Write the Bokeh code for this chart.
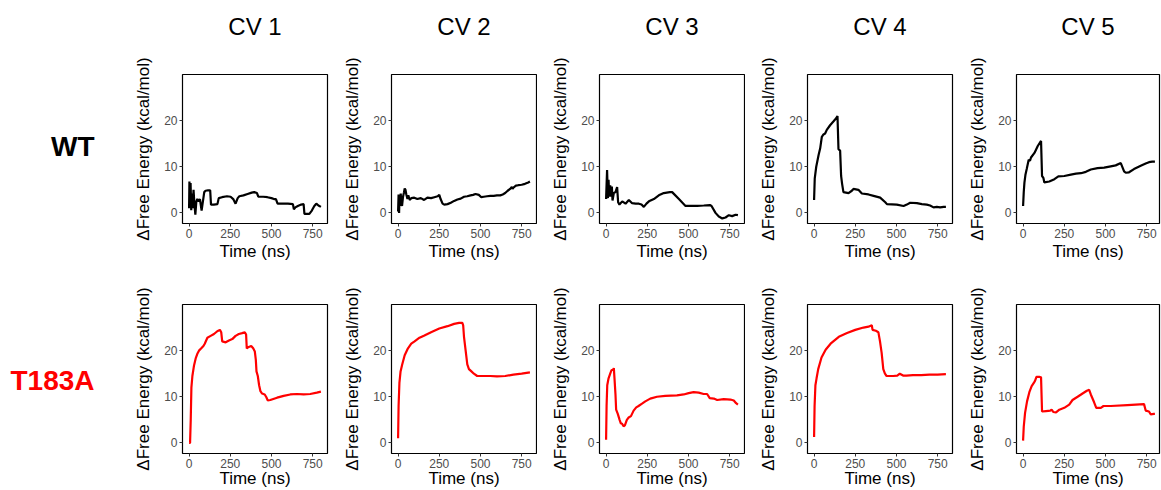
from bokeh.plotting import figure
from bokeh.layouts import row, column
from bokeh.models import Range1d, FixedTicker
from bokeh.core.properties import value
from bokeh.embed import file_html
from bokeh.resources import INLINE

cv_titles = ["CV 1", "CV 2", "CV 3", "CV 4", "CV 5"]
row_labels = ["WT", "T183A"]
row_colors = ["black", "#FF0000"]
x_ticks = [0, 250, 500, 750]
y_ticks = [0, 10, 20]
x_label = "Time (ns)"
y_label = "\u0394Free Energy (kcal/mol)"

# ---- WT ----
wt_cv1_t = [0, 2, 5, 9, 13, 17, 22, 27, 32, 38, 44, 50, 58, 66, 72, 76, 82, 92, 100, 115, 128, 133, 150, 172, 180, 200, 230, 252, 268, 282, 295, 305, 330, 355, 380, 395, 412, 420, 427, 450, 475, 500, 515, 527, 537, 560, 600, 630, 636, 645, 660, 680, 695, 700, 705, 730, 745, 760, 772, 785, 800]
wt_cv1_g = [1.0, 6.8, 1.0, 6.5, 0.6, 4.2, 1.0, 5.0, 2.0, -0.4, 2.5, 3.0, 2.5, 3.0, 1.5, 0.5, 2.0, 4.5, 4.8, 4.9, 4.9, 1.8, 1.8, 1.9, 3.2, 3.4, 3.6, 3.5, 3.0, 2.0, 3.2, 3.6, 3.8, 4.1, 4.4, 4.5, 4.3, 3.5, 3.5, 3.5, 3.4, 3.2, 3.0, 3.0, 2.0, 2.0, 2.0, 1.9, 0.8, 1.2, 1.5, 1.8, 1.9, -0.2, -0.2, -0.2, 0.5, 1.5, 2.0, 1.6, 1.3]

wt_cv2_t = [0, 3, 6, 9, 12, 16, 20, 24, 30, 36, 40, 45, 50, 57, 62, 67, 72, 80, 98, 117, 138, 158, 178, 200, 220, 240, 250, 258, 270, 280, 300, 320, 340, 360, 380, 400, 420, 440, 455, 470, 490, 505, 520, 540, 560, 580, 600, 620, 635, 650, 665, 680, 690, 695, 700, 715, 730, 750, 770, 790, 800]
wt_cv2_g = [0.3, 4.0, 0.0, 4.0, 1.5, 4.2, 2.0, 1.5, 3.5, 4.5, 5.3, 5.0, 4.0, 3.0, 3.8, 3.2, 2.8, 3.2, 3.3, 3.0, 3.2, 2.8, 3.3, 3.2, 3.4, 3.6, 3.9, 3.0, 2.0, 1.8, 1.9, 2.2, 2.6, 2.9, 3.1, 3.5, 3.6, 3.8, 3.9, 4.1, 3.9, 3.4, 3.5, 3.6, 3.7, 3.7, 3.8, 3.8, 4.0, 4.3, 4.8, 5.2, 5.6, 5.2, 5.5, 5.9, 6.0, 6.1, 6.3, 6.6, 6.8]

wt_cv3_t = [0, 6, 11, 15, 19, 25, 29, 35, 39, 47, 57, 67, 73, 81, 98, 118, 138, 158, 179, 199, 215, 229, 245, 260, 290, 320, 350, 387, 401, 442, 482, 553, 593, 630, 640, 664, 684, 705, 725, 745, 765, 786, 800]
wt_cv3_g = [3.0, 9.3, 3.2, 7.2, 3.5, 6.0, 3.5, 5.7, 2.7, 4.3, 4.5, 5.6, 2.3, 1.8, 2.5, 2.0, 2.8, 2.1, 2.0, 2.0, 1.8, 1.3, 2.0, 2.5, 3.0, 3.8, 4.3, 4.5, 4.5, 3.0, 1.5, 1.5, 1.6, 1.7, 1.5, 0.0, -0.8, -1.2, -1.0, -0.5, -0.7, -0.4, -0.5]

wt_cv4_t = [0, 4, 13, 27, 37, 47, 57, 67, 77, 97, 117, 134, 142, 148, 158, 164, 170, 178, 209, 229, 239, 269, 290, 330, 361, 401, 432, 442, 502, 543, 563, 583, 624, 654, 684, 704, 725, 745, 765, 786, 800]
wt_cv4_g = [2.8, 7.5, 10.0, 12.5, 14.0, 16.5, 17.0, 17.2, 18.0, 19.0, 19.8, 20.5, 21.0, 13.8, 13.5, 8.0, 6.3, 4.5, 4.3, 4.8, 5.2, 5.0, 4.2, 4.0, 3.7, 3.3, 2.3, 1.9, 1.8, 1.5, 1.8, 2.2, 2.1, 1.9, 1.8, 1.6, 1.2, 1.3, 1.2, 1.3, 1.3]

wt_cv5_t = [0, 4, 8, 14, 22, 34, 42, 48, 69, 89, 109, 115, 123, 129, 159, 190, 214, 250, 290, 321, 351, 381, 411, 452, 492, 532, 562, 593, 613, 623, 643, 673, 714, 744, 764, 784, 800]
wt_cv5_g = [1.5, 4.5, 6.5, 8.2, 9.5, 11.5, 11.3, 12.0, 13.0, 14.5, 15.6, 8.0, 7.6, 6.6, 6.8, 7.3, 7.9, 8.0, 8.3, 8.5, 8.6, 8.9, 9.4, 9.7, 9.8, 10.1, 10.3, 10.8, 9.0, 8.7, 8.8, 9.5, 10.2, 10.7, 11.0, 11.1, 11.1]

# ---- T183A ----
mut_cv1_t = [0, 6, 10, 14, 20, 30, 40, 50, 60, 74, 87, 95, 111, 131, 151, 171, 187, 195, 201, 222, 242, 262, 282, 302, 322, 338, 346, 350, 362, 377, 389, 399, 405, 409, 417, 425, 433, 443, 459, 469, 477, 493, 534, 574, 614, 654, 695, 735, 775, 800]
mut_cv1_g = [0.0, 0.0, 5.0, 12.0, 14.5, 16.8, 18.3, 19.3, 20.0, 20.5, 21.0, 21.5, 22.8, 23.2, 23.6, 24.2, 24.5, 24.0, 22.0, 21.8, 22.2, 22.5, 23.2, 23.6, 23.8, 24.0, 23.5, 20.5, 20.8, 21.0, 20.5, 19.8, 18.0, 15.5, 14.5, 12.5, 11.2, 10.7, 10.5, 9.9, 9.2, 9.3, 9.8, 10.2, 10.5, 10.6, 10.5, 10.6, 10.9, 11.1]

mut_cv2_t = [0, 3, 8, 15, 25, 40, 60, 80, 100, 130, 160, 200, 250, 300, 340, 370, 390, 395, 400, 410, 420, 430, 445, 460, 480, 520, 560, 600, 650, 700, 750, 800]
mut_cv2_g = [1.0, 8.0, 13.0, 15.5, 17.0, 19.0, 20.5, 21.5, 22.0, 22.8, 23.3, 24.0, 24.8, 25.3, 25.8, 26.0, 26.0, 25.5, 23.0, 20.0, 17.0, 16.0, 15.5, 15.0, 14.5, 14.5, 14.5, 14.4, 14.5, 14.8, 15.0, 15.3]

mut_cv3_t = [0, 3, 7, 15, 25, 33, 41, 47, 51, 57, 61, 71, 82, 90, 96, 106, 114, 126, 137, 151, 167, 183, 197, 218, 238, 268, 309, 359, 430, 471, 501, 531, 562, 592, 613, 629, 654, 674, 714, 755, 775, 789, 800]
mut_cv3_g = [0.7, 8.0, 12.5, 14.0, 15.0, 15.8, 15.8, 16.2, 14.0, 10.5, 7.2, 6.3, 5.0, 4.2, 4.2, 3.6, 3.8, 5.0, 5.5, 5.8, 7.0, 7.7, 8.0, 8.5, 9.0, 9.6, 10.0, 10.2, 10.3, 10.5, 10.8, 11.0, 10.9, 10.6, 10.6, 9.7, 9.6, 9.3, 9.5, 9.4, 9.2, 8.6, 8.3]

mut_cv4_t = [0, 3, 8, 15, 25, 45, 70, 100, 150, 200, 250, 300, 330, 350, 355, 375, 390, 400, 410, 420, 430, 440, 480, 505, 520, 540, 560, 600, 650, 700, 750, 800]
mut_cv4_g = [1.3, 8.0, 12.5, 14.0, 16.0, 18.5, 20.2, 21.5, 23.0, 23.8, 24.5, 25.0, 25.2, 25.5, 24.5, 24.3, 24.0, 22.0, 19.5, 16.0, 15.0, 14.5, 14.5, 14.6, 15.0, 14.6, 14.6, 14.7, 14.7, 14.8, 14.8, 14.9]

mut_cv5_t = [0, 4, 12, 24, 38, 52, 65, 73, 81, 101, 109, 115, 139, 165, 173, 183, 200, 220, 250, 280, 300, 331, 361, 387, 401, 411, 431, 444, 472, 488, 532, 633, 734, 744, 764, 774, 794, 800]
mut_cv5_g = [0.5, 3.5, 6.5, 9.0, 11.0, 12.3, 13.0, 13.5, 14.3, 14.3, 14.2, 6.8, 6.9, 7.0, 7.2, 6.7, 6.6, 7.2, 7.6, 8.3, 9.3, 10.0, 10.7, 11.3, 11.5, 10.5, 8.8, 7.6, 7.6, 8.0, 8.0, 8.2, 8.4, 7.0, 6.8, 6.2, 6.3, 6.3]

series = [
    [(wt_cv1_t, wt_cv1_g), (wt_cv2_t, wt_cv2_g), (wt_cv3_t, wt_cv3_g), (wt_cv4_t, wt_cv4_g), (wt_cv5_t, wt_cv5_g)],
    [(mut_cv1_t, mut_cv1_g), (mut_cv2_t, mut_cv2_g), (mut_cv3_t, mut_cv3_g), (mut_cv4_t, mut_cv4_g), (mut_cv5_t, mut_cv5_g)],
]

# ---- layout constants (pixels) ----
FONT = "Liberation Sans"
X0, X1 = -40, 840
Y0, Y1 = -2.3, 30
FRAME_W = 145
LEFT_B = 62
label_w = 120
fig_widths = [209, 208, 208, 209, 207]
frame_ws = [145, 145, 145, 145, 143]
header_h = 40
row_h = [224, 226]
top_b = [34, 40]
bot_b = [41, 36]
TOTAL_W = label_w + sum(fig_widths)


def make_panel(r, c):
    w = fig_widths[c]
    fw = frame_ws[c]
    right_b = w - LEFT_B - fw
    xend = X0 + (X1 - X0) * fw / FRAME_W
    p = figure(width=w, height=row_h[r], x_range=Range1d(X0, xend), y_range=Range1d(Y0, Y1),
               output_backend="svg", toolbar_location=None,
               min_border_left=LEFT_B, min_border_right=right_b,
               min_border_top=top_b[r], min_border_bottom=bot_b[r])
    t, g = series[r][c]
    p.line(t, g, line_color=row_colors[r], line_width=2.2)
    p.grid.visible = False
    p.outline_line_color = "black"
    p.outline_line_width = 1.2
    p.outline_line_alpha = 1.0
    p.xaxis.ticker = FixedTicker(ticks=x_ticks)
    p.yaxis.ticker = FixedTicker(ticks=y_ticks)
    for ax in (p.xaxis[0], p.yaxis[0]):
        ax.axis_line_color = None
        ax.major_tick_out = 3
        ax.major_tick_in = 0
        ax.major_tick_line_color = "#333333"
        ax.minor_tick_line_color = None
        ax.major_label_text_font = FONT
        ax.major_label_text_font_size = "12px"
        ax.major_label_text_color = "#4D4D4D"
        ax.major_label_standoff = 2
        ax.axis_label_text_font = FONT
        ax.axis_label_text_font_size = "17px"
        ax.axis_label_text_font_style = "normal"
        ax.axis_label_text_color = "black"
    p.xaxis.axis_label = x_label
    p.yaxis.axis_label = y_label
    p.xaxis.axis_label_standoff = 1 if r == 0 else -2
    p.yaxis.axis_label_standoff = 8
    return p


def blank(w, h):
    p = figure(width=w, height=h, x_range=Range1d(0, w), y_range=Range1d(0, h),
               x_axis_type=None, y_axis_type=None,
               output_backend="svg", toolbar_location=None,
               min_border_left=0, min_border_right=0, min_border_top=0, min_border_bottom=0)
    p.grid.visible = False
    p.outline_line_color = None
    return p


def make_header():
    p = blank(TOTAL_W, header_h)
    xs = []
    left = label_w
    for c in range(5):
        xs.append(left + LEFT_B + frame_ws[c] / 2.0)
        left += fig_widths[c]
    p.text(x=xs, y=[header_h - 26] * 5, text=cv_titles, text_align="center",
           text_baseline="middle", text_font=value(FONT), text_font_size="24px",
           text_color="black")
    return p


def make_label(r):
    h = row_h[r]
    p = blank(label_w, h)
    fh = h - top_b[r] - bot_b[r]
    yc = h - top_b[r] - fh / 2.0
    p.text(x=[label_w - 26], y=[yc], text=[row_labels[r]], text_align="right",
           text_baseline="middle", text_font=value(FONT), text_font_size="28px",
           text_font_style="bold", text_color=row_colors[r])
    return p


rows = [make_header()]
for r in range(2):
    rows.append(row([make_label(r)] + [make_panel(r, c) for c in range(5)], spacing=0))
layout = column(rows, spacing=0)

open("out.html", "w").write(file_html(layout, INLINE))
